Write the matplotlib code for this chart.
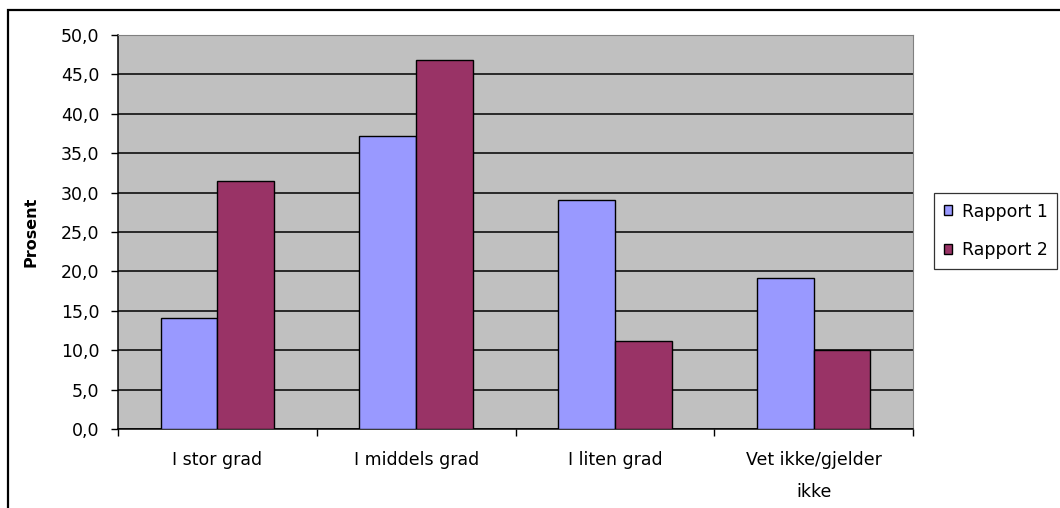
import numpy as np
import matplotlib
matplotlib.use('Agg')
import matplotlib.pyplot as plt
from matplotlib.patches import Rectangle
from matplotlib.ticker import FuncFormatter, MultipleLocator

plt.rcParams.update({'font.family': 'DejaVu Sans'})

# svarfordeling i prosent
categories = ['I stor grad', 'I middels grad', 'I liten grad', 'Vet ikke/gjelder\nikke']
rapport_1 = [14.1, 37.2, 29.1, 19.1]
rapport_2 = [31.5, 46.8, 11.2, 10.0]
series_names = ['Rapport 1', 'Rapport 2']
colors = ['#9999FF', '#993366']

fs = 12.5
x = np.arange(len(categories))
w = 1 / 3.5  # gap width 150 %

fig = plt.figure(figsize=(10.6, 5.08), dpi=100)
ax = fig.add_axes([118 / 1060, 1 - 429 / 508, 795 / 1060, 394 / 508])
ax.set_facecolor('#C0C0C0')

ax.bar(x - w / 2, rapport_1, w, color=colors[0], edgecolor='black', linewidth=1.0,
       label=series_names[0], zorder=3)
ax.bar(x + w / 2, rapport_2, w, color=colors[1], edgecolor='black', linewidth=1.0,
       label=series_names[1], zorder=3)

ax.set_xlim(-0.5, len(categories) - 0.5)
ax.set_ylim(0, 50)
ax.yaxis.set_major_locator(MultipleLocator(5))
ax.yaxis.set_major_formatter(FuncFormatter(lambda v, p: f'{v:.1f}'.replace('.', ',')))
ax.grid(axis='y', color='black', linewidth=1.1, zorder=1)
ax.set_axisbelow(True)

# category boundaries get the ticks, names sit in between
ax.set_xticks(np.arange(len(categories) + 1) - 0.5, [''] * (len(categories) + 1))
ax.set_xticks(x, categories, minor=True)
ax.tick_params(axis='x', which='major', direction='out', length=5, width=1.0)
ax.tick_params(axis='x', which='minor', length=0, pad=16, labelsize=fs)
ax.tick_params(axis='y', direction='out', length=5, width=1.0, pad=8.5, labelsize=fs)

for s in ['left', 'bottom']:
    ax.spines[s].set_color('black')
    ax.spines[s].set_linewidth(1.1)
for s in ['top', 'right']:
    ax.spines[s].set_color('#808080')
    ax.spines[s].set_linewidth(0.8)

ax.set_ylabel('Prosent', fontsize=11.5, fontweight='bold')
ax.yaxis.set_label_coords(-0.10, 0.5)

leg = fig.legend(loc='upper left', bbox_to_anchor=(934 / 1060, 1 - 193 / 508),
                 fontsize=fs, frameon=True, fancybox=False, borderaxespad=0,
                 borderpad=0.55, handlelength=0.5, handleheight=0.5,
                 handletextpad=0.55, labelspacing=1.2)
leg.get_frame().set_edgecolor('black')
leg.get_frame().set_linewidth(0.9)

# chart border
fig.patches.append(Rectangle((8 / 1060, -0.5), 1.5, 1 - 10 / 508 + 0.5, transform=fig.transFigure,
                             fill=False, edgecolor='black', linewidth=1.6))

fig.canvas.draw()
ax.yaxis.get_gridlines()[-1].set_visible(False)
for lab in ax.xaxis.get_minorticklabels():
    lab.set_linespacing(2.0)

fig.savefig('out.png', dpi=100)
